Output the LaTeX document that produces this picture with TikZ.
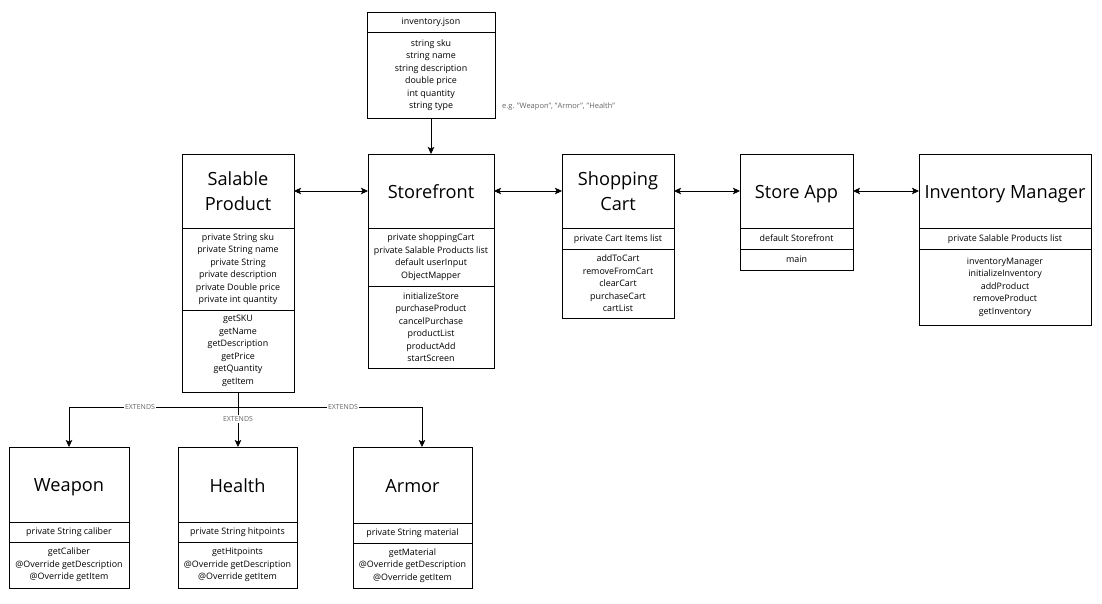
\documentclass[tikz,border=0pt]{standalone}
\usepackage{fontspec}
\setmainfont{Open Sans}
\usetikzlibrary{arrows.meta}
\newcommand{\titlefnt}{\fontsize{18.2}{25}\selectfont}
\newcommand{\smallfnt}{\fontsize{8.9}{12.5}\selectfont}
\newcommand{\tinyfnt}{\fontsize{7}{8}\selectfont}
\newcommand{\egfnt}{\fontsize{7.5}{9}\selectfont}
\newcommand{\tstr}{\rule[-4pt]{0pt}{23pt}}
\definecolor{lblgray}{HTML}{666666}
\begin{document}
\begin{tikzpicture}[x=1pt,y=-1pt,
  cls/.style={draw, line width=0.8pt, inner sep=0pt, outer sep=0pt, anchor=north west, align=center},
  ttl/.style={cls, font=\titlefnt, minimum height=74pt},
  body/.style={cls, font=\smallfnt},
  arr/.style={draw, line width=0.8pt, -{Stealth[length=7pt,width=6.5pt,inset=1.5pt]}},
  biarr/.style={draw, line width=0.8pt, {Stealth[length=7pt,width=6.5pt,inset=1.5pt]}-{Stealth[length=7pt,width=6.5pt,inset=1.5pt]}},
  lbl/.style={font=\tinyfnt, text=lblgray, fill=white, inner sep=1pt}
]
\useasboundingbox[fill=white] (0,0) rectangle (1102,604);

% inventory.json
\node[body, minimum width=128pt, minimum height=20pt] (ij-t) at (367,12) {inventory.json};
\node[body, minimum width=128pt, minimum height=86pt] (ij-a) at (367,32) {string sku\\string name\\string description\\double price\\int quantity\\string type};
\node[font=\egfnt, text=lblgray, anchor=west, inner sep=0pt] (eg) at (502,107) {e.g. "Weapon", "Armor", "Health"};

% Salable Product
\node[ttl, minimum width=112pt] (sp-t) at (182,154) {\tstr Salable\\\tstr Product};
\node[body, minimum width=112pt, minimum height=82pt] (sp-a) at (182,228) {private String sku\\private String name\\private String\\private description\\private Double price\\private int quantity};
\node[body, minimum width=112pt, minimum height=82pt] (sp-m) at (182,310) {getSKU\\getName\\getDescription\\getPrice\\getQuantity\\getItem};

% Storefront
\node[ttl, minimum width=126pt] (sf-t) at (368,154) {\tstr Storefront};
\node[body, minimum width=126pt, minimum height=58pt] (sf-a) at (368,228) {private shoppingCart\\private Salable Products list\\default userInput\\ObjectMapper};
\node[body, minimum width=126pt, minimum height=82pt] (sf-m) at (368,286) {initializeStore\\purchaseProduct\\cancelPurchase\\productList\\productAdd\\startScreen};

% Shopping Cart
\node[ttl, minimum width=112pt] (sc-t) at (562,154) {\tstr Shopping\\\tstr Cart};
\node[body, minimum width=112pt, minimum height=21pt] (sc-a) at (562,228) {\strut private Cart Items list};
\node[body, minimum width=112pt, minimum height=69pt] (sc-m) at (562,249) {addToCart\\removeFromCart\\clearCart\\purchaseCart\\cartList};

% Store App
\node[ttl, minimum width=113pt] (sa-t) at (740,154) {\tstr Store App};
\node[body, minimum width=113pt, minimum height=21pt] (sa-a) at (740,228) {\strut default Storefront};
\node[body, minimum width=113pt, minimum height=21pt] (sa-m) at (740,249) {\strut main};

% Inventory Manager
\node[ttl, minimum width=172pt] (im-t) at (919,154) {\tstr Inventory Manager};
\node[body, minimum width=172pt, minimum height=21pt] (im-a) at (919,228) {\strut private Salable Products list};
\node[body, minimum width=172pt, minimum height=76pt] (im-m) at (919,249) {inventoryManager\\initializeInventory\\addProduct\\removeProduct\\getInventory};

% Weapon
\node[ttl, minimum width=120pt, minimum height=75pt] (wp-t) at (9,447) {\tstr Weapon};
\node[body, minimum width=120pt, minimum height=20pt] (wp-a) at (9,522) {\strut private String caliber};
\node[body, minimum width=120pt, minimum height=46pt] (wp-m) at (9,542) {getCaliber\\@Override getDescription\\@Override getItem};

% Health
\node[ttl, minimum width=119pt, minimum height=75pt] (he-t) at (178,447) {\tstr Health};
\node[body, minimum width=119pt, minimum height=20pt] (he-a) at (178,522) {\strut private String hitpoints};
\node[body, minimum width=119pt, minimum height=46pt] (he-m) at (178,542) {getHitpoints\\@Override getDescription\\@Override getItem};

% Armor
\node[ttl, minimum width=119pt, minimum height=76pt] (ar-t) at (353,447) {\tstr Armor};
\node[body, minimum width=119pt, minimum height=20pt] (ar-a) at (353,523) {\strut private String material};
\node[body, minimum width=119pt, minimum height=45pt] (ar-m) at (353,543) {getMaterial\\@Override getDescription\\@Override getItem};

% connectors
\draw[arr] (ij-a.south) -- (ij-a.south |- sf-t.north);
\draw[biarr] (sp-t.east) -- (sf-t.west);
\draw[biarr] (sf-t.east) -- (sc-t.west);
\draw[biarr] (sc-t.east) -- (sa-t.west);
\draw[biarr] (sa-t.east) -- (im-t.west);

\coordinate (split) at (238,407);
\coordinate (arin) at (422,447);
\draw[arr] (sp-m.south) -- (split) -| (wp-t.north);
\draw[arr] (sp-m.south) -- (sp-m.south |- he-t.north);
\draw[arr] (split) -| (arin);
\node[lbl] (ex1) at (140,407) {EXTENDS};
\node[lbl] (ex2) at (238,419) {EXTENDS};
\node[lbl] (ex3) at (343,407) {EXTENDS};
\end{tikzpicture}
\end{document}
